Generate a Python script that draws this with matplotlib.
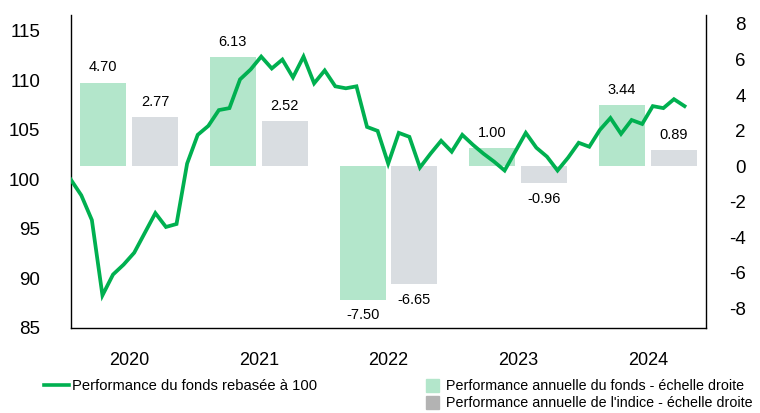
import matplotlib
matplotlib.use("Agg")
import matplotlib.pyplot as plt
import numpy as np
from matplotlib.lines import Line2D
from matplotlib.patches import Patch

plt.rcParams['font.family'] = ['Liberation Sans', 'DejaVu Sans']
plt.rcParams['axes.unicode_minus'] = False

years = ['2020', '2021', '2022', '2023', '2024']
fund_annual = [4.70, 6.13, -7.50, 1.00, 3.44]
index_annual = [2.77, 2.52, -6.65, -0.96, 0.89]

nav = [100.0, 98.4, 95.9, 88.3, 90.4, 91.4, 92.6, 94.6, 96.6, 95.2,
       95.5, 101.6, 104.5, 105.4, 107.0, 107.2, 110.1, 111.1, 112.4, 111.2,
       112.1, 110.3, 112.4, 109.7, 111.0, 109.4, 109.2, 109.4, 105.3, 104.9,
       101.6, 104.7, 104.3, 101.2, 102.6, 103.9, 102.8, 104.5, 103.5, 102.6,
       101.8, 100.9, 102.8, 104.7, 103.2, 102.3, 100.9, 102.2, 103.7, 103.3,
       105.0, 106.2, 104.6, 106.0, 105.6, 107.4, 107.2, 108.1, 107.4]

legend_line = 'Performance du fonds rebasée à 100'
legend_fund = 'Performance annuelle du fonds - échelle droite'
legend_index = "Performance annuelle de l'indice - échelle droite"

c_line = '#00b050'
c_fund = '#b3e6cb'
c_index = '#d9dde1'
c_index_leg = '#b3b3b3'

fig = plt.figure(figsize=(7.6, 4.13), dpi=100)
pos = [70.7 / 760, 1 - 328 / 413, (705.7 - 70.7) / 760, (328 - 15) / 413]

# Bars on right scale
ax = fig.add_axes(pos)
x = np.arange(len(years))
ax.bar(x - 0.2, fund_annual, width=0.355, color=c_fund, zorder=2)
ax.bar(x + 0.2, index_annual, width=0.355, color=c_index, zorder=2)
for xi, v in zip(x - 0.2, fund_annual):
    ax.annotate(f'{v:.2f}', (xi, v), xytext=(0, 11 if v >= 0 else -11),
                textcoords='offset points', ha='center', va='center', fontsize=10.5)
for xi, v in zip(x + 0.2, index_annual):
    ax.annotate(f'{v:.2f}', (xi, v), xytext=(0, 11 if v >= 0 else -11),
                textcoords='offset points', ha='center', va='center', fontsize=10.5)
ax.set_xlim(-0.45, 4.445)
ax.set_ylim(-9.1, 8.5)
ax.set_yticks(np.arange(-8, 9, 2))
ax.yaxis.tick_right()
ax.tick_params(axis='y', length=0, pad=29, labelsize=13.5)
for lab in ax.get_yticklabels():
    lab.set_horizontalalignment('right')
ax.set_xticks(x, years)
ax.tick_params(axis='x', length=0, pad=17, labelsize=13)
ax.spines['top'].set_visible(False)
for s in ['left', 'right', 'bottom']:
    ax.spines[s].set_color('black')
    ax.spines[s].set_linewidth(1.0)

# Line on left scale
ax2 = fig.add_axes(pos, frameon=False)
ax2.plot(np.arange(len(nav)), nav, color=c_line, lw=2.7, solid_joinstyle='miter', zorder=3)
ax2.set_xlim(0, 60)
ax2.set_ylim(85, 116.6)
ax2.set_yticks(np.arange(85, 116, 5))
ax2.tick_params(axis='y', length=0, pad=22, labelsize=13.5)
ax2.set_xticks([])

fig.legend(handles=[Line2D([], [], color=c_line, lw=2.6)], labels=[legend_line],
           loc='upper left', bbox_to_anchor=(44 / 760, 1 - 379 / 413), frameon=False,
           handlelength=1.7, handletextpad=0.2, borderpad=0, borderaxespad=0,
           fontsize=10.6)
fig.legend(handles=[Patch(color=c_fund), Patch(color=c_index_leg)],
           labels=[legend_fund, legend_index],
           loc='upper left', bbox_to_anchor=(426 / 760, 1 - 379 / 413), frameon=False,
           handlelength=0.9, handleheight=1.0, handletextpad=0.5, borderpad=0,
           borderaxespad=0, labelspacing=0.2, fontsize=10.3)

fig.savefig('out.png', dpi=100)
